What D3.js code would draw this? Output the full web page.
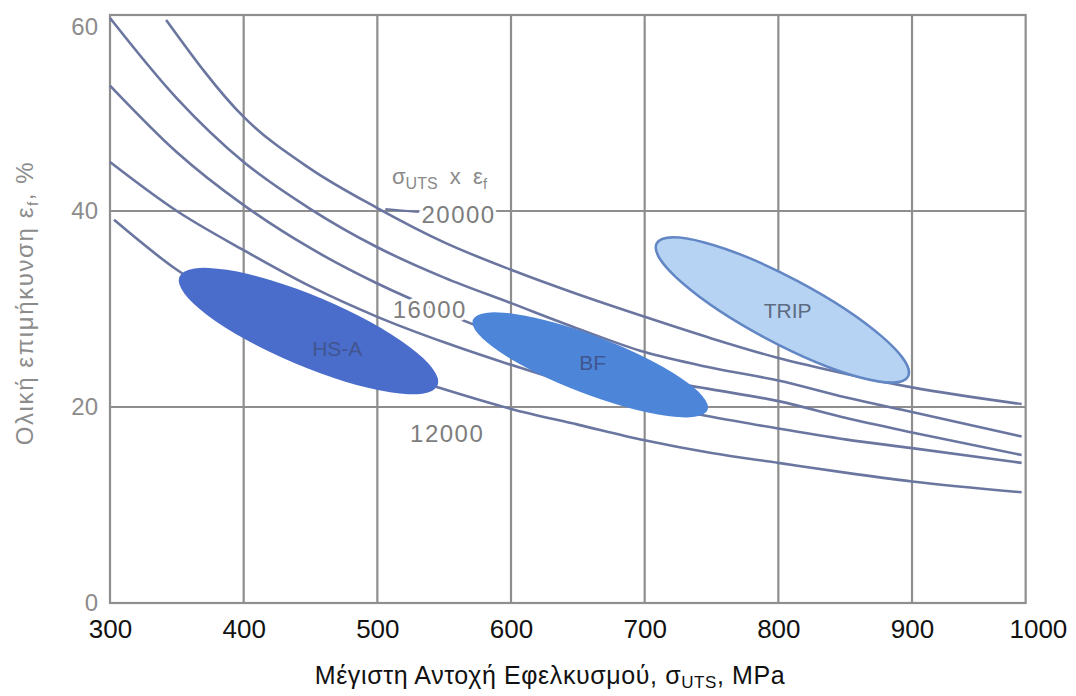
<!DOCTYPE html>
<html>
<head>
<meta charset="utf-8">
<script src="https://cdn.jsdelivr.net/npm/d3@7"></script>
<style>
  body { margin: 0; background: #fff; }
  svg { display: block; font-family: "Liberation Sans", Arial, sans-serif; }
</style>
</head>
<body>
<svg id="chart" width="1076" height="696"></svg>
<script>
// tick values
const xTicks = [300, 400, 500, 600, 700, 800, 900, 1000];
const yTicks = [0, 20, 40, 60];
const xGrid = [400, 500, 600, 700, 800, 900];
const yGrid = [20, 40];

// iso-product curves  sigma_UTS x eps_f, [sigma (MPa), eps (%)]
const curve20000 = [[342,59.5],[400,49.6],[450,44.3],[500,40.3],[550,36.8],[600,34.0],[650,31.5],[700,29.2],[750,27.0],[800,25.0],[850,23.4],[900,22.0],[982,20.3]];
const curve18000 = [[300,59.7],[350,51.5],[400,45.0],[450,40.2],[500,36.3],[550,33.2],[600,30.6],[650,28.0],[700,25.6],[750,24.0],[800,22.7],[850,21.0],[900,19.5],[982,17.0]];
const curve16000 = [[300,52.8],[350,46.0],[400,40.6],[450,36.2],[500,32.6],[550,29.6],[600,27.0],[650,24.8],[700,23.0],[750,21.8],[800,20.6],[850,18.9],[900,17.4],[982,15.1]];
const curve14000 = [[300,45.0],[350,40.0],[400,36.0],[450,32.3],[500,29.2],[550,26.6],[600,24.3],[650,22.2],[700,20.4],[750,19.0],[800,17.8],[850,16.7],[900,15.8],[982,14.3]];
const curve12000 = [[303,39.1],[350,34.0],[400,30.0],[450,26.7],[500,24.0],[550,21.8],[600,19.8],[650,18.2],[700,16.6],[750,15.3],[800,14.3],[850,13.3],[900,12.4],[982,11.3]];

// steel families: the two tips of each region [sigma, eps]
const steelNames = ["HS-A", "BF", "TRIP"];
const steelTipA = [[352, 33.3], [571.5, 28.9], [709, 36.7]];
const steelTipB = [[545, 22.2], [747, 19.7], [897, 23.1]];
const steelLabelAt = [[470, 26.0], [661, 24.5], [807, 29.8]];

// curve labels [text, sigma, eps]
const curveLabels = [["20000", 533, 38.8], ["16000", 511.5, 29.1], ["12000", 524.5, 16.4]];
const leader20000 = [[506, 40.2], [531, 39.9]];

const svg = d3.select("#chart");

const x = d3.scaleLinear().domain([300, 1000]).range([110, 110 + 7 * 133.67]);
const y = d3.scaleLinear().domain([0, 60]).range([603, 15]);
const xFrameMax = 985;

const gridColor = "#8e8e8e";
const curveColor = "#6b76a0";
const fills = ["#4a6ccb", "#4d85d8", "#b6d3f3"];
const strokes = ["none", "none", "#6387c4"];
const aspect = [0.25, 0.23, 0.23];

// grid
const grid = svg.append("g").attr("stroke", gridColor).attr("stroke-width", 2.2);
grid.selectAll(".vg").data(xGrid).enter().append("line")
  .attr("x1", d => x(d)).attr("x2", d => x(d))
  .attr("y1", y(0)).attr("y2", y(60));
grid.selectAll(".hg").data(yGrid).enter().append("line")
  .attr("x1", x(300)).attr("x2", x(xFrameMax))
  .attr("y1", d => y(d)).attr("y2", d => y(d));
grid.append("rect")
  .attr("x", x(300)).attr("y", y(60))
  .attr("width", x(xFrameMax) - x(300)).attr("height", y(0) - y(60))
  .attr("fill", "none");

// curves
const line = d3.line().x(d => x(d[0])).y(d => y(d[1])).curve(d3.curveMonotoneX);
const curves = [curve20000, curve18000, curve16000, curve14000, curve12000];
svg.append("g").selectAll("path").data(curves).enter().append("path")
  .attr("d", line)
  .attr("fill", "none")
  .attr("stroke", curveColor)
  .attr("stroke-width", 2.6);

svg.append("path")
  .attr("d", d3.line().x(d => x(d[0])).y(d => y(d[1]))(leader20000))
  .attr("stroke", curveColor).attr("stroke-width", 2.2);

// steel regions
const regions = svg.append("g");
steelNames.forEach((name, i) => {
  const x1 = x(steelTipA[i][0]), y1 = y(steelTipA[i][1]);
  const x2 = x(steelTipB[i][0]), y2 = y(steelTipB[i][1]);
  const cx = (x1 + x2) / 2, cy = (y1 + y2) / 2;
  const a = Math.hypot(x2 - x1, y2 - y1) / 2;
  const ang = Math.atan2(y2 - y1, x2 - x1) * 180 / Math.PI;
  regions.append("ellipse")
    .attr("cx", 0).attr("cy", 0)
    .attr("rx", a).attr("ry", a * aspect[i])
    .attr("transform", `translate(${cx},${cy}) rotate(${ang})`)
    .attr("fill", fills[i])
    .attr("stroke", strokes[i])
    .attr("stroke-width", 2.5);
  regions.append("text")
    .attr("x", x(steelLabelAt[i][0])).attr("y", y(steelLabelAt[i][1]))
    .attr("text-anchor", "middle").attr("dominant-baseline", "central")
    .attr("font-size", 21)
    .attr("fill", i === 2 ? "#5d6b82" : "#41558f")
    .text(name);
});

// curve labels
svg.append("g").selectAll("text").data(curveLabels).enter().append("text")
  .attr("x", d => x(d[1])).attr("y", d => y(d[2]))
  .attr("font-size", 24).attr("letter-spacing", 1.5)
  .attr("fill", "#7d7d7d")
  .attr("stroke", "#fff").attr("stroke-width", 6).attr("paint-order", "stroke")
  .text(d => d[0]);

// sigma x eps label
const prod = svg.append("text")
  .attr("x", x(511)).attr("y", y(42.8))
  .attr("font-size", 22).attr("fill", "#8a8a8a")
  .attr("xml:space", "preserve");
prod.append("tspan").text("σ");
prod.append("tspan").attr("font-size", 16).attr("dy", 5).text("UTS");
prod.append("tspan").attr("dy", -5).text("  x  ε");
prod.append("tspan").attr("font-size", 15).attr("dy", 5).text("f");

// axes
const xAxis = svg.append("g")
  .attr("transform", `translate(0,${y(0)})`)
  .call(d3.axisBottom(x).tickValues(xTicks).tickSize(0).tickPadding(17).tickFormat(d3.format("d")));
xAxis.select(".domain").remove();
xAxis.selectAll("text").attr("font-size", 26).attr("fill", "#111").attr("font-family", null)
  .attr("dx", d => d === 1000 ? "-0.3em" : 0);

const yAxis = svg.append("g")
  .attr("transform", `translate(${x(300)},0)`)
  .call(d3.axisLeft(y).tickValues(yTicks).tickSize(0).tickPadding(12));
yAxis.select(".domain").remove();
yAxis.selectAll("text").attr("font-size", 24).attr("fill", "#8c8c8c").attr("font-family", null)
  .attr("dy", d => d === 60 ? "0.8em" : "0.32em");

// axis titles
const xt = svg.append("text")
  .attr("x", 550).attr("y", 684)
  .attr("text-anchor", "middle").attr("font-size", 25).attr("letter-spacing", 0.6)
  .attr("fill", "#111");
xt.append("tspan").text("Μέγιστη Αντοχή Εφελκυσμού, σ");
xt.append("tspan").attr("font-size", 17).attr("dy", 4).text("UTS");
xt.append("tspan").attr("dy", -4).text(", MPa");

const yt = svg.append("text")
  .attr("transform", "translate(33,303) rotate(-90)")
  .attr("text-anchor", "middle").attr("font-size", 24).attr("letter-spacing", 1.6)
  .attr("fill", "#8c8c8c");
yt.append("tspan").text("Ολική επιμήκυνση ε");
yt.append("tspan").attr("font-size", 15).attr("dy", 5).text("f");
yt.append("tspan").attr("dy", -5).text(", %");
</script>
</body>
</html>
